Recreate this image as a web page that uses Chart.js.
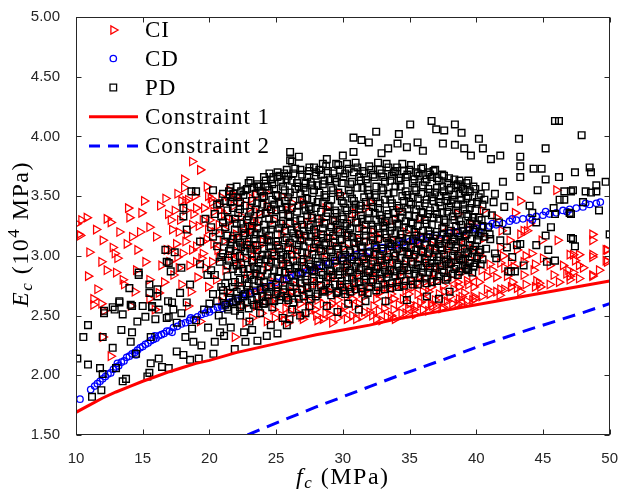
<!DOCTYPE html>
<html>
<head>
<meta charset="utf-8">
<script src="https://cdn.jsdelivr.net/npm/chart.js@4.4.1/dist/chart.umd.min.js"></script>
<style>
  html, body { margin: 0; padding: 0; background: #fff; }
</style>
</head>
<body>
<canvas id="chart" width="625" height="497"></canvas>
<script>
// ── DATA ──────────────────────────────────────────────────────
// each row: fc value followed by one or more Ec values (10^4 MPa)
const xTicks = [10, 15, 20, 25, 30, 35, 40, 45, 50];
const yTicks = [1.5, 2.0, 2.5, 3.0, 3.5, 4.0, 4.5, 5.0];

const ciRows = [
  // sparse, left
  [10.05,3.27],[10.2,3.18],[10.3,3.17],[10.4,3.30],[10.8,3.32],[10.9,2.83],[11.0,3.03],[11.3,2.64,2.59],[11.5,3.22],
  [11.6,2.72],[11.9,2.95,2.60],[12.0,3.13,2.32],[12.1,2.54],[12.3,3.31,2.88],[12.6,3.28,2.16],[12.75,3.07],[12.9,3.02],
  [13.0,2.86],[13.1,2.98],[13.25,3.20],[13.5,2.80],[13.6,2.76],[13.8,3.10],[13.9,3.40],[14.0,3.32],[14.1,2.58],[14.2,3.16],
  [14.4,2.70],[14.5,2.88],[14.6,3.05],[14.8,3.20],[14.9,3.36],[15.1,3.46],[15.2,2.95],[15.5,3.24,2.80,2.64],[15.9,2.55],
  [16.0,3.16],[16.2,2.69],[16.3,3.42],[16.4,2.92],[16.6,2.78],[16.7,3.48],[16.8,3.05],[16.9,3.35],[17.0,2.95],[17.4,3.38],
  [17.6,3.52],[17.9,3.46],[18.1,3.64,3.57],[18.4,3.47],[18.7,3.79],[19.3,3.72],[19.8,3.58],[20.2,3.45],[20.9,3.49],
  [21.4,3.50],[23.5,3.51],[24.2,3.53],
  // left of the main cloud
  [17.2,3.22],[17.5,3.10],[17.8,3.30],[18.0,3.02],[18.3,3.18],[18.5,2.92],[18.8,3.35],[19.0,3.08],[19.2,3.25],[19.4,2.98],
  [19.6,3.40],[19.8,3.14],[20.0,3.30],[20.2,2.95],[20.4,3.20],[20.6,3.05],[20.8,3.38],[21.0,3.12],[21.2,2.88],[21.4,3.28],
  [21.6,3.00],[21.8,3.42],[22.0,3.18],[22.2,2.92],[22.4,3.33],[22.6,3.08],[22.8,2.85],[17.3,2.84],[17.9,2.76],[18.6,2.70],
  [19.1,2.82],[19.9,2.74],[20.5,2.80],[21.3,2.70],[22.1,2.76],[17.6,2.99],[18.9,3.50],[19.5,3.12],[20.1,3.48],[20.7,3.26],
  [21.5,3.55],[22.3,3.45],[22.9,3.25],[18.2,3.38],[19.7,2.90],[21.9,2.96,2.32],[20.9,2.62],[22.5,2.58],[18.4,2.58],
  [19.3,2.45],[22.7,2.44],
  [17.1,3.05,3.30],[17.7,3.20,2.90],[18.2,3.12,3.46],[18.7,3.05,3.26],[19.0,3.40,2.95],[19.5,3.30,3.02],[19.9,3.22,3.50],
  [20.3,3.10,3.37],[20.7,2.98,3.42],[21.1,3.35,3.22],[21.7,3.15,3.30],[22.0,3.04,3.50],[22.5,3.20,2.98],[23.0,3.40,3.10],
  [23.3,3.05,3.30],
  // main cloud
  [23.2,2.48,2.71,2.95,3.22,3.48],[23.7,2.60,2.84,3.08,3.36],[24.3,2.45,2.66,2.90,3.15,3.42],[24.8,2.55,2.78,3.02,3.30],
  [25.4,2.50,2.69,2.93,3.18,3.50],[25.9,2.44,2.62,2.86,3.10,3.38],[26.5,2.53,2.75,3.00,3.26],[27.0,2.47,2.66,2.91,3.14,3.45],
  [27.6,2.57,2.80,3.05,3.33],[28.1,2.46,2.63,2.88,3.20],[28.7,2.52,2.72,2.97,3.40],[29.2,2.44,2.60,2.84,3.09,3.30],
  [29.8,2.55,2.76,3.00,3.52],[30.3,2.47,2.66,2.92,3.17],[30.9,2.58,2.79,3.06,3.36],[31.4,2.49,2.69,2.95,3.24],
  [32.0,2.53,2.73,2.88,3.12,3.45],[32.5,2.47,2.64,2.82,3.03],[33.1,2.56,2.77,2.98,3.28],[33.6,2.50,2.68,2.90,3.14],
  [34.2,2.59,2.80,3.05,3.38],[34.7,2.52,2.71,2.93,3.20],[35.3,2.55,2.74,2.99,3.10],[35.8,2.61,2.83,3.08,3.32],
  [36.4,2.54,2.70,2.92,3.16],[36.9,2.63,2.86,3.03],[37.5,2.57,2.75,2.97,3.24],[38.0,2.66,2.89,3.12],
  [38.6,2.60,2.78,3.01,3.35],[39.1,2.69,2.92,3.15],[39.7,2.63,2.82,3.06,3.26],
  [23.5,2.58,3.00,3.27],[24.0,2.75,3.12],[24.6,2.62,2.98,3.38],[25.1,2.72,3.08],[25.7,2.56,2.95,3.25],[26.2,2.70,3.05,3.44],
  [26.8,2.60,2.85,3.18],[27.3,2.74,2.98,3.28],[27.9,2.55,2.90,3.12],[28.4,2.70,3.04,3.30],[29.0,2.58,2.80,3.15],
  [29.5,2.68,2.94,3.22],[30.1,2.57,2.85,3.08],[30.6,2.72,2.99,3.30],[31.2,2.60,2.86,3.14],[31.7,2.76,3.00,3.40],
  [32.3,2.58,2.95,3.20],[32.8,2.70,2.92,3.15],[33.4,2.62,2.86,3.06],[33.9,2.74,2.97,3.30],[34.5,2.64,2.87,3.12],
  [35.0,2.60,2.80,3.02],[35.6,2.68,2.94,3.18],[36.1,2.64,2.78,3.00],[36.7,2.58,2.80,3.09],[37.2,2.68,2.90,3.13],
  [37.8,2.62,2.82,3.05],[38.3,2.72,2.95,3.20],[38.9,2.66,2.86,3.08],[39.4,2.76,2.98,3.22],
  // lower edge of the cloud, just above constraint 1
  [23.9,2.52,2.68],[24.9,2.48,2.64],[25.6,2.46,2.79],[26.0,2.52,2.67],[26.9,2.49,2.72],[27.4,2.53,2.62],[28.0,2.50,2.77],
  [28.5,2.47,2.60],[29.0,2.51,2.70],[29.6,2.48,2.63],[30.0,2.52,2.74],[30.7,2.50,2.64],[31.0,2.47,2.71],[31.6,2.53,2.66],
  [32.2,2.50,2.79],[32.7,2.54,2.69],[33.3,2.49,2.74],[33.8,2.55,2.64],[34.4,2.52,2.75],[34.9,2.56,2.68],[35.5,2.58,2.77],
  [36.0,2.55,2.70],[36.6,2.60,2.74],[37.0,2.58,2.79],[37.6,2.62,2.70],[38.2,2.60,2.80],[38.7,2.64,2.74],[39.3,2.62,2.79],
  [39.8,2.66,2.74],[40.4,2.66,2.88],[41.0,2.68,2.93],[41.5,2.70,2.82],[42.1,2.72,2.90],[42.6,2.74,2.95],[43.7,2.76,3.00],
  [44.4,2.74,2.93],
  // right
  [46.0,3.55],[43.3,3.46,3.18,2.70],[48.7,3.18,3.13,2.99,2.84,3.01,2.83],[49.7,3.05,2.96],[47.7,3.01,2.92,2.81],
  [47.0,3.01,2.83,2.80],[47.4,2.96],[46.1,3.13],[46.75,2.85],[45.5,2.76,2.92],[44.5,2.79],[44.3,2.88],[43.55,2.95,2.84,3.21],
  [43.8,3.21],[44.0,3.27],[42.5,3.13],[43.05,3.05,2.73],[41.8,3.07,2.94,2.72],[42.3,2.83],[40.8,2.83,2.72],[41.75,2.67],
  [39.9,2.64],[38.9,2.61],[37.4,2.56],[35.4,2.51],[33.9,2.47],[32.9,2.46],[49.8,3.05,2.95],[47.25,2.86,3.01],[46.9,2.88],
  [45.8,2.84],[44.7,2.77],[42.8,2.91],[44.15,3.02],[44.9,3.13],[46.5,2.92],[41.9,3.21],[40.3,3.00],[40.6,3.15],[41.2,2.88],
  [42.0,3.00],[40.2,2.78],[41.5,3.32],[42.7,2.78],[44.8,2.74],[46.2,2.78],[45.0,2.98],[48.0,2.90],[49.2,2.88],[40.5,3.38],
  [42.9,3.36]
];

const cdRows = [
  [10.3,1.80],[11.1,1.88],[11.4,1.91],[11.6,1.93],[11.8,1.95],[12.0,1.97],[12.2,1.99],[12.4,2.01],[12.6,2.02],[12.8,2.05],
  [13.0,2.07],[13.1,2.10],[13.2,2.08],[13.4,2.11],[13.6,2.12],[13.8,2.15],[14.0,2.16],[14.2,2.18],[14.4,2.19],[14.5,2.17],
  [14.6,2.21],[14.8,2.23],[15.0,2.24],[15.2,2.26],[15.4,2.27],[15.6,2.29],[15.8,2.30],[15.9,2.33],[16.0,2.31],[16.2,2.33],
  [16.4,2.34],[16.6,2.35],[16.8,2.37],[17.0,2.37],[17.2,2.36],[17.3,2.40],[17.6,2.41],[17.9,2.43],[18.2,2.44],[18.5,2.46],
  [18.6,2.48],[18.8,2.47],[19.1,2.49],[19.4,2.51],[19.7,2.52],[19.9,2.55],[20.0,2.53],[20.3,2.55],[20.6,2.57],[20.9,2.58],
  [21.0,2.56],[21.2,2.59],[21.5,2.61],[21.8,2.62],[22.1,2.64],[22.4,2.65],[22.5,2.68],[22.7,2.67],[23.0,2.68],[23.4,2.70],
  [23.8,2.72],[24.2,2.74],[24.6,2.75],[25.0,2.78],[25.5,2.80],[26.0,2.82],[26.5,2.84],[27.0,2.86],[27.5,2.88],[28.0,2.90],
  [28.5,2.92],[29.0,2.94],[29.5,2.96],[30.0,2.98],[30.5,2.99],[31.0,3.01],[31.5,3.03],[32.0,3.04],[32.5,3.06],[33.0,3.07],
  [33.5,3.08],[34.0,3.09],[34.5,3.11],[35.0,3.12],[35.5,3.13],[36.0,3.14],[36.5,3.16],[37.0,3.17],[37.5,3.18],[38.0,3.19],
  [38.5,3.20],[39.0,3.21],[39.5,3.22],[40.0,3.23],[40.2,3.21],[40.5,3.24],[41.0,3.25],[41.2,3.27],[41.5,3.26],[42.0,3.27],
  [42.5,3.29],[42.7,3.31],[43.0,3.30],[43.5,3.31],[44.0,3.32],[44.2,3.30],[44.5,3.33],[45.0,3.34],[45.2,3.37],[45.5,3.35],
  [46.0,3.36],[46.5,3.38],[46.8,3.37],[47.0,3.39],[47.5,3.40],[48.0,3.41],[48.2,3.44],[48.5,3.43],[49.0,3.44],[49.3,3.45]
];

const pdRows = [
  // sparse, lower left
  [10.1,2.14],[10.55,2.32],[10.9,2.42,2.09],[11.2,1.82],[11.8,2.06],[11.9,1.875],[12.0,2.32,2.01],[12.1,2.54,2.52],
  [12.75,2.23,2.57],[12.9,2.55],[13.0,2.06],[13.25,2.62,2.61],[13.4,2.38],[13.5,1.95,2.51],[13.75,1.97],[14.0,2.73],
  [14.1,2.28,2.59],[14.2,2.36,2.58],[14.5,2.18],[14.6,2.45],[14.7,2.86,2.84],[15.0,2.58],[15.2,2.49],[15.35,1.99],
  [15.5,2.02,2.69,2.76],[15.6,2.32,2.10],[15.7,2.58,2.57],[15.95,2.47],[16.1,2.66,2.72],[16.2,2.55,2.14],[16.45,2.07],
  [16.7,3.05],[16.8,2.48,2.95],[16.9,2.62],[16.95,2.06,2.94,2.49],[17.1,2.87],[17.2,2.61],[17.3,2.55],[17.4,3.03],
  [17.55,2.20,2.44],[17.8,2.69],[17.9,2.52,2.90],[18.05,2.17,3.33,3.40],[18.2,2.32],[18.3,2.61,3.22],[18.55,2.13,2.76],
  [18.65,3.54],[18.7,2.39],[18.8,2.28],[19.0,2.46,3.54],[19.2,2.14],[19.4,2.25],[19.6,2.55],[19.9,2.40],[20.0,2.60],
  [20.3,2.18],[20.4,2.28],[20.7,2.50],[20.8,2.36],[21.0,2.45],[21.1,2.33],[21.4,2.55],[21.6,2.40],[21.9,2.22],[22.0,2.62],
  [22.3,2.50],[22.6,2.36],[22.7,2.28],[23.0,2.45],[23.2,2.38],[23.6,2.29,3.58],[23.8,2.52],[24.0,2.60],[24.2,3.58],
  [24.3,2.33],[24.6,2.42],[24.8,3.66],[25.1,2.35],[25.5,2.48],[25.6,3.69],[25.8,2.42],[26.0,2.47],[26.2,2.55,3.79],
  [26.8,2.50],[27.2,2.52],[27.5,2.58],[28.8,2.58],[29.6,2.53],[30.4,2.60],[31.2,2.55],[31.7,2.62],[33.2,2.62],[34.8,2.63],
  [36.3,2.66],[37.2,2.64],[38.0,2.70],[19.3,3.12,2.93],[19.7,3.31],[19.85,2.84],
  // upper outliers
  [21.8,3.52],[22.7,3.55],[24.5,3.69],[25.1,3.66],[25.8,3.72],[26.05,3.87,3.80],[26.7,3.83],[27.5,3.74],[28.0,3.70],
  [28.5,3.77],[28.8,3.81],[29.5,3.77],[30.0,3.84],[30.8,3.99,3.87],[31.4,3.97],[31.95,3.95],[32.5,4.04],[32.9,3.86],
  [33.4,3.90],[34.1,3.94],[34.2,4.02],[34.8,3.91],[35.05,4.10],[35.6,3.95],[36.0,3.88],[36.65,4.13],[37.0,4.06],[37.5,3.94],
  [37.6,4.05],[38.4,4.10,3.93],[38.9,4.03],[39.1,3.90],[39.6,3.84],[40.2,3.98],[40.5,3.90],[41.1,3.81],[41.8,3.84],
  [43.2,3.98],[43.3,3.83,3.75,3.66],[44.3,3.73],[44.9,3.73],[45.2,3.90,3.64],[45.9,4.13],[46.2,4.13,3.66],[46.6,3.54],
  [47.1,3.54],[47.4,3.70],[47.9,4.01],[48.2,3.54],[48.5,3.74],[48.6,3.70,3.53],[49.0,3.59,3.54],[49.7,3.62],
  // right
  [39.4,2.90],[39.7,2.86],[40.3,3.05],[40.4,3.30],[40.7,3.58],[41.0,3.18],[41.3,3.45],[41.5,2.98],[41.8,3.13],[42.0,3.62],
  [42.3,3.07,3.21],[42.4,2.87],[42.5,3.50],[42.6,2.87],[42.7,2.99],[42.9,2.87],[43.05,3.09],[43.3,3.10],[43.55,2.92],
  [44.0,3.42],[44.2,3.36],[44.5,3.28,3.09],[44.6,3.55],[45.2,3.17],[45.3,2.95],[45.4,3.05],[45.6,3.24],[45.8,3.40],
  [45.9,3.35,2.96],[46.25,3.47],[46.6,3.47],[47.0,3.36],[47.1,3.35,3.15],[47.25,3.55,3.14],[47.4,3.08],[48.0,3.45],
  [49.2,3.38],[50.0,3.18],[41.4,3.02,3.52],[41.7,3.28],[42.1,3.41],
  // main cloud
  [20.13,2.88,3.24],[20.41,2.84,3.35],[20.77,2.95,3.19,3.44],
  [21.02,2.66,2.71,3.02,3.28,3.52],[21.35,2.57,2.83,2.92,3.17,3.38],[21.58,2.69,3.06,3.11,3.45,3.57],
  [21.91,2.54,2.78,2.99,3.22,3.31],[22.16,2.64,2.87,3.15,3.36,3.49],[22.38,2.59,2.72,2.93,3.07,3.27,3.54],
  [22.67,2.68,2.81,3.04,3.19,3.42],[22.94,2.56,2.77,2.89,3.12,3.33,3.61],[23.18,2.63,2.96,3.02,3.25,3.46],
  [23.46,2.71,2.85,3.09,3.18,3.39,3.52],[23.69,2.58,2.79,2.94,3.29,3.58],[23.97,2.66,2.88,3.01,3.14,3.43,3.49],
  [24.22,2.62,2.74,2.97,3.21,3.36,3.63],[24.48,2.70,2.91,3.08,3.17,3.31,3.55],[24.71,2.57,2.82,3.03,3.26,3.47,3.60],
  [24.99,2.68,2.76,2.95,3.12,3.38,3.51],[25.24,2.63,2.87,3.06,3.23,3.44,3.67],[25.52,2.72,2.93,3.01,3.29,3.35,3.58],
  [25.78,2.65,2.81,2.99,3.15,3.41,3.64],[26.03,2.74,2.89,3.11,3.27,3.33,3.53],[26.29,2.61,2.78,2.96,3.19,3.46,3.69],
  [26.57,2.69,2.92,3.05,3.24,3.37,3.61],[26.82,2.77,2.85,3.13,3.30,3.52,3.72],[27.06,2.66,2.97,3.08,3.21,3.43,3.57],
  [27.33,2.73,2.83,3.02,3.34,3.48,3.66],[27.59,2.64,2.91,3.16,3.26,3.39,3.62],[27.84,2.79,2.88,3.07,3.22,3.55,3.74],
  [28.11,2.68,2.95,3.12,3.31,3.45,3.59],[28.37,2.75,2.86,3.04,3.18,3.37,3.68],[28.62,2.71,2.99,3.09,3.27,3.51,3.63],
  [28.88,2.82,2.93,3.15,3.36,3.42,3.71],[29.13,2.67,2.87,3.03,3.24,3.47,3.57],[29.41,2.76,2.96,3.11,3.29,3.38,3.65],
  [29.66,2.70,2.84,3.06,3.20,3.53,3.76],[29.92,2.79,2.98,3.14,3.33,3.46,3.61],[30.18,2.68,2.90,3.01,3.25,3.40,3.69],
  [30.44,2.74,2.86,3.10,3.19,3.55,3.73],[30.69,2.81,2.97,3.16,3.35,3.48,3.62],[30.96,2.72,2.91,3.05,3.28,3.43,3.78],
  [31.22,2.78,2.88,3.12,3.23,3.39,3.66],[31.47,2.70,2.99,3.08,3.31,3.57,3.71],[31.73,2.83,2.94,3.17,3.26,3.45,3.64],
  [31.98,2.74,2.87,3.03,3.37,3.52,3.75],[32.26,2.80,2.96,3.13,3.22,3.41,3.68],[32.51,2.71,2.89,3.07,3.30,3.49,3.58],
  [32.77,2.85,3.00,3.19,3.34,3.44,3.72],[33.03,2.76,2.92,3.04,3.25,3.55,3.66],[33.28,2.82,2.97,3.15,3.29,3.38,3.77],
  [33.56,2.73,2.88,3.10,3.21,3.47,3.63],[33.81,2.87,3.02,3.13,3.36,3.53,3.70],[34.07,2.78,2.93,3.06,3.27,3.42,3.74],
  [34.33,2.84,2.98,3.18,3.32,3.58,3.65],[34.58,2.75,2.90,3.09,3.24,3.46,3.71],[34.84,2.88,3.03,3.14,3.39,3.51,3.68],
  [35.11,2.79,2.95,3.07,3.28,3.43,3.76],[35.37,2.85,3.01,3.20,3.33,3.57,3.64],[35.62,2.76,2.92,3.11,3.25,3.48,3.69],
  [35.88,2.90,3.04,3.16,3.37,3.52,3.73],[36.14,2.81,2.97,3.09,3.30,3.44,3.62],[36.41,2.86,3.02,3.21,3.35,3.56,3.70],
  [36.67,2.78,2.94,3.12,3.26,3.49,3.66],[36.92,2.91,3.06,3.17,3.40,3.53,3.72],[37.19,2.83,2.99,3.10,3.31,3.45,3.63],
  [37.45,2.88,3.05,3.23,3.36,3.58,3.68],[37.71,2.80,2.95,3.14,3.28,3.50],[37.96,2.93,3.08,3.19,3.41,3.55,3.65],
  [38.23,2.85,3.00,3.12,3.33,3.47],[38.49,2.91,3.07,3.25,3.38,3.59],[38.74,2.87,2.98,3.16,3.29,3.52,3.63],
  [39.01,2.96,3.11,3.21,3.43,3.56],[39.27,2.89,3.03,3.18,3.35,3.48,3.61],[39.52,2.94,3.09,3.27,3.40,3.54],
  [39.79,2.91,3.05,3.22,3.32,3.58],[40.06,2.98,3.13,3.26,3.45],[40.33,2.93,3.19,3.52],
  [40.61,3.16,3.47],[40.88,3.24],[41.17,3.34],
  [20.27,2.68,3.16,3.55],[20.58,2.62,3.08,3.43],[20.89,2.74,2.99,3.33],
  [21.19,2.59,2.77,3.12,3.24,3.46],[21.47,2.65,2.96,3.04,3.31,3.54],[21.76,2.61,2.74,2.89,3.14,3.40,3.49],
  [22.04,2.70,2.92,3.08,3.27,3.58],[22.29,2.57,2.80,3.00,3.11,3.39,3.45],[22.55,2.66,2.89,3.17,3.23,3.51],
  [22.81,2.61,2.75,2.98,3.09,3.30,3.56],[23.07,2.69,2.84,3.06,3.20,3.37,3.63],[23.33,2.59,2.80,2.91,3.14,3.29,3.57],
  [23.58,2.65,2.89,3.05,3.23,3.44,3.60],[23.84,2.72,2.83,2.97,3.19,3.35,3.54],[24.09,2.60,2.78,3.06,3.26,3.50,3.66],
  [24.35,2.67,2.85,3.01,3.13,3.41,3.58],[24.61,2.74,2.95,3.12,3.22,3.39,3.64],[24.86,2.62,2.88,3.00,3.31,3.43,3.56],
  [25.11,2.70,2.81,3.09,3.18,3.50,3.70],[25.38,2.66,2.97,3.03,3.27,3.39,3.62],[25.65,2.75,2.86,3.13,3.21,3.46,3.55],
  [25.91,2.63,2.92,3.07,3.34,3.49,3.67],[26.16,2.69,2.84,3.01,3.22,3.40,3.63],[26.43,2.78,2.90,3.15,3.29,3.56,3.73],
  [26.69,2.64,2.86,3.09,3.18,3.42,3.58],[26.95,2.72,2.95,3.03,3.26,3.47,3.68],[27.2,2.80,2.89,3.17,3.38,3.54,3.61],
  [27.46,2.68,2.93,3.12,3.24,3.41,3.71],[27.71,2.75,2.87,3.01,3.32,3.47,3.59],[27.97,2.66,2.98,3.10,3.19,3.40,3.67],
  [28.24,2.81,2.92,3.06,3.28,3.53,3.72],[28.5,2.70,2.84,3.15,3.23,3.44,3.60],[28.75,2.77,2.95,3.11,3.33,3.49,3.75],
  [29.01,2.73,2.88,3.05,3.20,3.41,3.64],[29.27,2.84,2.99,3.17,3.30,3.55,3.69],[29.54,2.69,2.91,3.08,3.26,3.36,3.62],
  [29.79,2.76,2.87,3.13,3.22,3.50,3.72],[30.05,2.71,2.96,3.05,3.31,3.44,3.66],[30.31,2.82,2.93,3.17,3.27,3.38,3.77],
  [30.56,2.70,2.88,3.03,3.23,3.52,3.60],[30.83,2.77,2.99,3.11,3.39,3.46,3.70],[31.09,2.84,2.95,3.15,3.28,3.57,3.74],
  [31.35,2.73,2.90,3.07,3.34,3.42,3.63],[31.6,2.80,2.97,3.12,3.21,3.49,3.69],[31.86,2.69,2.86,3.02,3.30,3.55,3.61],
  [32.13,2.78,2.93,3.16,3.26,3.45,3.72],[32.39,2.86,3.01,3.09,3.36,3.51,3.66],[32.64,2.74,2.91,3.14,3.23,3.40,3.78],
  [32.9,2.81,2.96,3.06,3.31,3.57,3.69],[33.16,2.72,2.88,3.18,3.28,3.47,3.62],[33.42,2.85,2.99,3.11,3.35,3.52,3.74],
  [33.68,2.77,2.94,3.08,3.24,3.44,3.67],[33.94,2.83,3.00,3.19,3.31,3.58,3.71],[34.2,2.74,2.91,3.12,3.26,3.40,3.63],
  [34.46,2.88,3.04,3.15,3.37,3.50,3.77],[34.71,2.79,2.96,3.07,3.29,3.54,3.66],[34.97,2.85,3.01,3.22,3.34,3.45,3.72],
  [35.24,2.76,2.93,3.13,3.27,3.49,3.61],[35.5,2.89,3.05,3.17,3.39,3.55,3.70],[35.75,2.82,2.98,3.10,3.31,3.42,3.67],
  [36.01,2.86,3.03,3.21,3.36,3.59,3.74],[36.28,2.77,2.94,3.15,3.27,3.47,3.64],[36.54,2.90,3.06,3.18,3.38,3.53,3.68],
  [36.8,2.84,2.99,3.11,3.32,3.46,3.71],[37.06,2.79,2.96,3.20,3.35,3.57,3.65],[37.32,2.92,3.07,3.14,3.42,3.50],
  [37.58,2.86,3.01,3.24,3.30,3.54,3.67],[37.84,2.82,2.97,3.16,3.37,3.46,3.61],[38.1,2.94,3.10,3.21,3.44,3.57],
  [38.36,2.89,3.04,3.14,3.30,3.51,3.64],[38.62,2.84,3.00,3.19,3.36,3.43,3.60],[38.87,2.97,3.12,3.26,3.47,3.58],
  [39.14,2.92,3.06,3.17,3.39,3.54],[39.4,2.88,3.02,3.24,3.33,3.50,3.63],[39.66,2.99,3.14,3.29,3.44],
  [39.93,2.94,3.08,3.20,3.38,3.56],[40.19,3.03,3.17,3.32,3.49],[40.47,2.97,3.25,3.43],
  [40.74,3.06,3.36],[41.05,3.14]
];

const c1X = [10, 11, 12, 13, 14, 15, 16, 17, 18, 19, 20, 22, 24, 26, 28, 30, 32, 34, 36, 38, 40, 42, 44, 46, 48, 50];
const c1Y = [1.69, 1.75, 1.81, 1.86, 1.905, 1.95, 1.99, 2.03, 2.065, 2.10, 2.125, 2.19, 2.24, 2.29, 2.34, 2.38,
             2.42, 2.47, 2.51, 2.55, 2.59, 2.63, 2.67, 2.71, 2.75, 2.79];
const c2X = [22.86, 24, 26, 28, 30, 32, 34, 36, 38, 40, 42, 44, 46, 48, 50];
const c2Y = [1.50, 1.555, 1.645, 1.735, 1.82, 1.905, 1.99, 2.07, 2.15, 2.235, 2.31, 2.385, 2.455, 2.525, 2.60];

// ── STYLE ─────────────────────────────────────────────────────
const RED   = '#ff0000';
const BLUE  = '#0000ff';
const BLACK = '#000000';
const AXIS  = '#262626';
const SERIF = '"Liberation Serif", "Times New Roman", serif';
const SANS  = '"Liberation Sans", Arial, sans-serif';
const NONE  = 'rgba(0,0,0,0)';

function expand(rows) {
  const out = [];
  rows.forEach(r => { for (let i = 1; i < r.length; i++) out.push({ x: r[0], y: r[i] }); });
  return out;
}
const zip = (xs, ys) => xs.map((x, i) => ({ x, y: ys[i] }));

// ── FRAME, TITLES, LEGEND ─────────────────────────────────────
function richWidth(ctx, parts) {
  let w = 0;
  parts.forEach(p => { ctx.font = p.font; w += ctx.measureText(p.t).width; });
  return w;
}
function drawRich(ctx, parts, x0, base) {
  let x = x0;
  parts.forEach(p => {
    ctx.font = p.font;
    ctx.fillText(p.t, x, base + (p.dy || 0));
    x += ctx.measureText(p.t).width;
  });
}

function marker(ctx, kind, x, y) {
  ctx.beginPath();
  if (kind === 'tri') {
    const r = 4.8;
    ctx.moveTo(x + r, y);
    ctx.lineTo(x - r / 2, y - r * 0.866);
    ctx.lineTo(x - r / 2, y + r * 0.866);
    ctx.closePath();
  } else if (kind === 'circ') {
    ctx.arc(x, y, 3.2, 0, Math.PI * 2);
  } else {
    ctx.rect(x - 3.3, y - 3.3, 6.6, 6.6);
  }
  ctx.stroke();
}

const decor = {
  id: 'decor',
  afterDraw(chart) {
    const { ctx, chartArea: a, scales: { x, y } } = chart;
    ctx.save();

    // box + inward ticks on all four sides
    const L = Math.round(a.left) + 0.5, R = Math.round(a.right) - 0.5;
    const T = Math.round(a.top) + 0.5,  B = Math.round(a.bottom) - 0.5;
    ctx.strokeStyle = AXIS;
    ctx.lineWidth = 1;
    ctx.strokeRect(L, T, R - L, B - T);
    ctx.beginPath();
    xTicks.forEach(v => {
      const px = Math.round(x.getPixelForValue(v)) + 0.5;
      ctx.moveTo(px, B); ctx.lineTo(px, B - 5);
      ctx.moveTo(px, T); ctx.lineTo(px, T + 5);
    });
    yTicks.forEach(v => {
      const py = Math.round(y.getPixelForValue(v)) + 0.5;
      ctx.moveTo(L, py); ctx.lineTo(L + 5, py);
      ctx.moveTo(R, py); ctx.lineTo(R - 5, py);
    });
    ctx.stroke();

    // axis titles
    ctx.fillStyle = BLACK;
    ctx.textBaseline = 'alphabetic';
    ctx.letterSpacing = '1.5px';
    const xt = [
      { t: 'f', font: 'italic 24px ' + SERIF },
      { t: 'c', font: 'italic 17px ' + SERIF, dy: 4 },
      { t: ' (MPa)', font: '24px ' + SERIF },
    ];
    drawRich(ctx, xt, (a.left + a.right) / 2 - richWidth(ctx, xt) / 2, 484);

    const yt = [
      { t: 'E', font: 'italic 24px ' + SERIF },
      { t: 'c', font: 'italic 17px ' + SERIF, dy: 4 },
      { t: ' (10', font: '24px ' + SERIF },
      { t: '4', font: '17px ' + SERIF, dy: -9 },
      { t: ' MPa)', font: '24px ' + SERIF },
    ];
    ctx.save();
    ctx.translate(28, 234);
    ctx.rotate(-Math.PI / 2);
    drawRich(ctx, yt, -richWidth(ctx, yt) / 2, 0);
    ctx.restore();

    // legend
    ctx.letterSpacing = '1px';
    ctx.font = '23px ' + SERIF;
    const rows = [
      { name: 'CI', y: 30, kind: 'tri', color: RED },
      { name: 'CD', y: 58.5, kind: 'circ', color: BLUE },
      { name: 'PD', y: 87.5, kind: 'sq', color: BLACK },
      { name: 'Constraint 1', y: 116.7, kind: 'line', color: RED },
      { name: 'Constraint 2', y: 146, kind: 'dash', color: BLUE },
    ];
    rows.forEach(r => {
      ctx.strokeStyle = r.color;
      if (r.kind === 'line' || r.kind === 'dash') {
        ctx.lineWidth = 3;
        ctx.setLineDash(r.kind === 'dash' ? [11, 8] : []);
        ctx.beginPath();
        ctx.moveTo(89, r.y); ctx.lineTo(138, r.y);
        ctx.stroke();
        ctx.setLineDash([]);
      } else {
        ctx.lineWidth = 1.3;
        marker(ctx, r.kind, 113.3, r.y);
      }
      ctx.fillStyle = BLACK;
      ctx.fillText(r.name, 145, r.y + 7);
    });

    ctx.restore();
  }
};

// ── CHART ─────────────────────────────────────────────────────
new Chart(document.getElementById('chart'), {
  type: 'scatter',
  data: {
    datasets: [
      { label: 'Constraint 1', data: zip(c1X, c1Y), showLine: true, borderColor: RED, borderWidth: 3,
        pointRadius: 0, order: 0 },
      { label: 'Constraint 2', data: zip(c2X, c2Y), showLine: true, borderColor: BLUE, borderWidth: 3,
        borderDash: [13, 8], pointRadius: 0, order: 0 },
      { label: 'PD', data: expand(pdRows), pointStyle: 'rect', pointRadius: 4.7, pointBorderColor: BLACK,
        pointBackgroundColor: NONE, pointBorderWidth: 1.4, order: 1 },
      { label: 'CD', data: expand(cdRows), pointStyle: 'circle', pointRadius: 3.2, pointBorderColor: BLUE,
        pointBackgroundColor: NONE, pointBorderWidth: 1.3, order: 2 },
      { label: 'CI', data: expand(ciRows), pointStyle: 'triangle', pointRotation: 90, pointRadius: 4.9,
        pointBorderColor: RED, pointBackgroundColor: NONE, pointBorderWidth: 1.25, order: 3 },
    ],
  },
  options: {
    responsive: false,
    animation: false,
    events: [],
    layout: { padding: { top: 9, right: 8, left: 0, bottom: 0 } },
    plugins: { legend: { display: false }, tooltip: { enabled: false } },
    scales: {
      x: {
        type: 'linear', min: 10, max: 50,
        afterBuildTicks: s => { s.ticks = xTicks.map(v => ({ value: v })); },
        afterFit: s => { s.height = 62; },
        grid: { display: false }, border: { display: false },
        ticks: { color: AXIS, font: { family: SANS, size: 15 }, padding: 7, maxRotation: 0, autoSkip: false },
      },
      y: {
        type: 'linear', min: 1.5, max: 5,
        afterBuildTicks: s => { s.ticks = yTicks.map(v => ({ value: v })); },
        afterFit: s => { s.width = 76; },
        grid: { display: false }, border: { display: false },
        ticks: { color: AXIS, font: { family: SANS, size: 15 }, padding: 8, autoSkip: false,
                 callback: v => Number(v).toFixed(2) },
      },
    },
  },
  plugins: [decor],
});
</script>
</body>
</html>
